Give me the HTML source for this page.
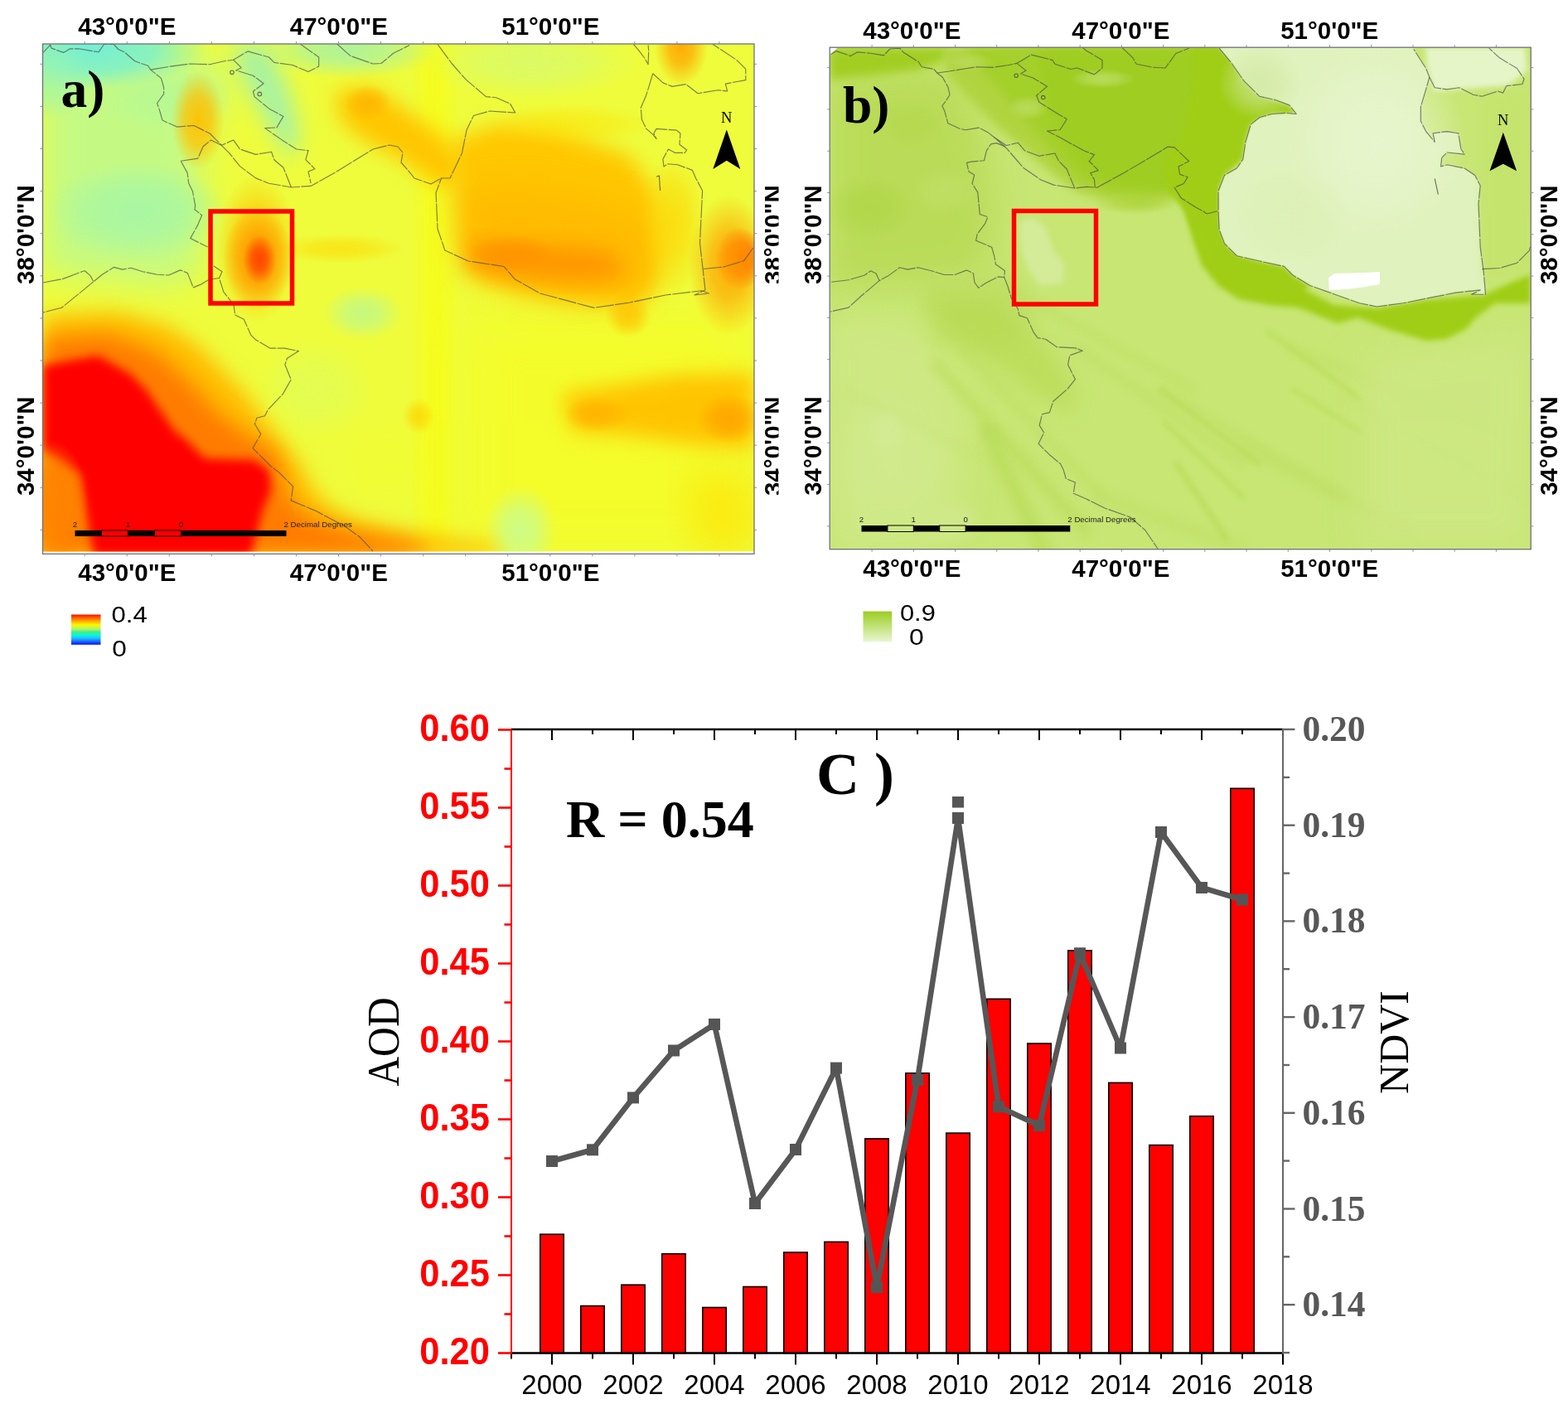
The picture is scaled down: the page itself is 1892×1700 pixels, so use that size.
<!DOCTYPE html>
<html><head><meta charset="utf-8"><title>AOD NDVI</title>
<style>html,body{margin:0;padding:0;background:#fff;} body{width:1892px;height:1700px;overflow:hidden;} svg{display:block;}</style>
</head><body>
<svg width="1892" height="1700" viewBox="0 0 1892 1700">
<rect width="1892" height="1700" fill="#fff"/>

<defs>
<clipPath id="clipA"><rect x="52" y="53" width="858" height="612.5"/></clipPath>
<clipPath id="clipRa"><rect x="900" y="0" width="39.5" height="800"/></clipPath>
<filter id="ba6" x="-30%" y="-30%" width="160%" height="160%"><feGaussianBlur stdDeviation="6"/></filter>
<filter id="ba12" x="-30%" y="-30%" width="160%" height="160%"><feGaussianBlur stdDeviation="12"/></filter>
<filter id="ba20" x="-30%" y="-30%" width="160%" height="160%"><feGaussianBlur stdDeviation="20"/></filter>
<filter id="ba30" x="-30%" y="-30%" width="160%" height="160%"><feGaussianBlur stdDeviation="30"/></filter>
</defs>
<g clip-path="url(#clipA)">
<rect x="52" y="53" width="858" height="612.5" fill="#eefc3c"/>
<polygon points="508.0,53.0 542.0,53.0 542.0,665.0 508.0,665.0" fill="#fdfd00" filter="url(#ba12)" opacity="0.55"/>
<radialGradient id="rg1"><stop offset="0" stop-color="#f4fd28" stop-opacity="0.4"/><stop offset="0.45" stop-color="#f4fd28" stop-opacity="0.300"/><stop offset="1" stop-color="#f4fd28" stop-opacity="0"/></radialGradient><ellipse cx="470" cy="560" rx="80" ry="70" fill="url(#rg1)"/>
<polygon points="560.0,380.0 910.0,380.0 910.0,665.0 560.0,665.0" fill="#fbfd14" filter="url(#ba30)" opacity="0.45"/>
<polygon points="52.0,53.0 200.0,53.0 260.0,75.0 280.0,110.0 250.0,150.0 240.0,200.0 250.0,260.0 240.0,330.0 200.0,345.0 120.0,335.0 52.0,330.0" fill="#c4fa84" filter="url(#ba20)"/>
<radialGradient id="rg2"><stop offset="0" stop-color="#a4f6a8" stop-opacity="0.85"/><stop offset="0.5" stop-color="#a4f6a8" stop-opacity="0.637"/><stop offset="1" stop-color="#a4f6a8" stop-opacity="0"/></radialGradient><ellipse cx="165" cy="255" rx="110" ry="60" fill="url(#rg2)"/>
<radialGradient id="rg3"><stop offset="0" stop-color="#74efd4" stop-opacity="1"/><stop offset="0.55" stop-color="#74efd4" stop-opacity="0.750"/><stop offset="1" stop-color="#74efd4" stop-opacity="0"/></radialGradient><ellipse cx="110" cy="58" rx="140" ry="50" fill="url(#rg3)"/>
<radialGradient id="rg4"><stop offset="0" stop-color="#98f4b4" stop-opacity="0.7"/><stop offset="0.45" stop-color="#98f4b4" stop-opacity="0.525"/><stop offset="1" stop-color="#98f4b4" stop-opacity="0"/></radialGradient><ellipse cx="60" cy="95" rx="50" ry="50" fill="url(#rg4)"/>
<radialGradient id="rg5"><stop offset="0" stop-color="#b0f89c" stop-opacity="0.6"/><stop offset="0.45" stop-color="#b0f89c" stop-opacity="0.450"/><stop offset="1" stop-color="#b0f89c" stop-opacity="0"/></radialGradient><ellipse cx="200" cy="120" rx="80" ry="40" fill="url(#rg5)"/>
<polygon points="280.0,53.0 322.0,53.0 348.0,105.0 362.0,160.0 352.0,195.0 332.0,165.0 305.0,120.0 288.0,85.0" fill="#a2f2aa" filter="url(#ba12)" opacity="0.9"/>
<radialGradient id="rg6"><stop offset="0" stop-color="#a8f2a4" stop-opacity="0.9"/><stop offset="0.45" stop-color="#a8f2a4" stop-opacity="0.675"/><stop offset="1" stop-color="#a8f2a4" stop-opacity="0"/></radialGradient><ellipse cx="420" cy="60" rx="110" ry="35" fill="url(#rg6)"/>
<radialGradient id="rg7"><stop offset="0" stop-color="#d6fa70" stop-opacity="0.8"/><stop offset="0.45" stop-color="#d6fa70" stop-opacity="0.600"/><stop offset="1" stop-color="#d6fa70" stop-opacity="0"/></radialGradient><ellipse cx="640" cy="75" rx="130" ry="45" fill="url(#rg7)"/>
<radialGradient id="rg8"><stop offset="0" stop-color="#bcf890" stop-opacity="0.8"/><stop offset="0.45" stop-color="#bcf890" stop-opacity="0.600"/><stop offset="1" stop-color="#bcf890" stop-opacity="0"/></radialGradient><ellipse cx="438" cy="378" rx="48" ry="32" fill="url(#rg8)"/>
<radialGradient id="rg9"><stop offset="0" stop-color="#ccfc8c" stop-opacity="0.95"/><stop offset="0.45" stop-color="#ccfc8c" stop-opacity="0.712"/><stop offset="1" stop-color="#ccfc8c" stop-opacity="0"/></radialGradient><ellipse cx="628" cy="640" rx="45" ry="55" fill="url(#rg9)"/>
<radialGradient id="rg10"><stop offset="0" stop-color="#dcfd60" stop-opacity="0.6"/><stop offset="0.45" stop-color="#dcfd60" stop-opacity="0.450"/><stop offset="1" stop-color="#dcfd60" stop-opacity="0"/></radialGradient><ellipse cx="380" cy="470" rx="70" ry="60" fill="url(#rg10)"/>
<radialGradient id="rg11"><stop offset="0" stop-color="#ffc000" stop-opacity="0.95"/><stop offset="0.5" stop-color="#ffc000" stop-opacity="0.712"/><stop offset="1" stop-color="#ffc000" stop-opacity="0"/></radialGradient><ellipse cx="239" cy="145" rx="32" ry="60" fill="url(#rg11)"/>
<polygon points="405.0,110.0 450.0,105.0 500.0,140.0 540.0,170.0 560.0,200.0 550.0,230.0 515.0,215.0 480.0,190.0 440.0,170.0 410.0,145.0" fill="#ffc600" filter="url(#ba12)"/>
<radialGradient id="rg12"><stop offset="0" stop-color="#ffb000" stop-opacity="0.7"/><stop offset="0.45" stop-color="#ffb000" stop-opacity="0.525"/><stop offset="1" stop-color="#ffb000" stop-opacity="0"/></radialGradient><ellipse cx="444" cy="124" rx="28" ry="22" fill="url(#rg12)"/>
<polygon points="545.0,170.0 600.0,150.0 660.0,155.0 705.0,168.0 760.0,188.0 790.0,230.0 796.0,300.0 792.0,345.0 770.0,368.0 700.0,364.0 640.0,354.0 590.0,338.0 560.0,320.0 552.0,260.0" fill="#ffc800" filter="url(#ba12)"/>
<polygon points="556.0,230.0 640.0,225.0 720.0,240.0 785.0,260.0 790.0,330.0 760.0,360.0 700.0,360.0 640.0,350.0 590.0,335.0 560.0,318.0" fill="#ffb800" filter="url(#ba20)" opacity="0.8"/>
<radialGradient id="rg13"><stop offset="0" stop-color="#ffd400" stop-opacity="0.7"/><stop offset="0.45" stop-color="#ffd400" stop-opacity="0.525"/><stop offset="1" stop-color="#ffd400" stop-opacity="0"/></radialGradient><ellipse cx="812" cy="270" rx="40" ry="85" fill="url(#rg13)"/>
<radialGradient id="rg14"><stop offset="0" stop-color="#ffe000" stop-opacity="0.5"/><stop offset="0.45" stop-color="#ffe000" stop-opacity="0.375"/><stop offset="1" stop-color="#ffe000" stop-opacity="0"/></radialGradient><ellipse cx="690" cy="150" rx="100" ry="26" fill="url(#rg14)"/>
<polygon points="568.0,290.0 640.0,294.0 720.0,300.0 750.0,312.0 750.0,336.0 700.0,340.0 620.0,334.0 568.0,324.0" fill="#ff9800" filter="url(#ba12)"/>
<radialGradient id="rg15"><stop offset="0" stop-color="#ff9000" stop-opacity="0.6"/><stop offset="0.45" stop-color="#ff9000" stop-opacity="0.450"/><stop offset="1" stop-color="#ff9000" stop-opacity="0"/></radialGradient><ellipse cx="620" cy="305" rx="50" ry="22" fill="url(#rg15)"/>
<radialGradient id="rg16"><stop offset="0" stop-color="#ff4a00" stop-opacity="1"/><stop offset="0.5" stop-color="#ff4a00" stop-opacity="0.750"/><stop offset="1" stop-color="#ff4a00" stop-opacity="0"/></radialGradient><ellipse cx="893" cy="312" rx="30" ry="38" fill="url(#rg16)"/>
<radialGradient id="rg17"><stop offset="0" stop-color="#ffa000" stop-opacity="0.85"/><stop offset="0.45" stop-color="#ffa000" stop-opacity="0.637"/><stop offset="1" stop-color="#ffa000" stop-opacity="0"/></radialGradient><ellipse cx="880" cy="320" rx="50" ry="85" fill="url(#rg17)"/>
<radialGradient id="rg18"><stop offset="0" stop-color="#ffa800" stop-opacity="0.95"/><stop offset="0.45" stop-color="#ffa800" stop-opacity="0.712"/><stop offset="1" stop-color="#ffa800" stop-opacity="0"/></radialGradient><ellipse cx="822" cy="56" rx="32" ry="48" fill="url(#rg18)"/>
<radialGradient id="rg19"><stop offset="0" stop-color="#ffc000" stop-opacity="0.8"/><stop offset="0.45" stop-color="#ffc000" stop-opacity="0.600"/><stop offset="1" stop-color="#ffc000" stop-opacity="0"/></radialGradient><ellipse cx="758" cy="380" rx="28" ry="28" fill="url(#rg19)"/>
<polygon points="678.0,475.0 760.0,462.0 820.0,452.0 910.0,450.0 910.0,542.0 850.0,538.0 760.0,525.0 690.0,520.0" fill="#ffc400" filter="url(#ba12)"/>
<radialGradient id="rg20"><stop offset="0" stop-color="#ffaa00" stop-opacity="0.6"/><stop offset="0.45" stop-color="#ffaa00" stop-opacity="0.450"/><stop offset="1" stop-color="#ffaa00" stop-opacity="0"/></radialGradient><ellipse cx="720" cy="500" rx="40" ry="22" fill="url(#rg20)"/>
<radialGradient id="rg21"><stop offset="0" stop-color="#ffa000" stop-opacity="0.8"/><stop offset="0.45" stop-color="#ffa000" stop-opacity="0.600"/><stop offset="1" stop-color="#ffa000" stop-opacity="0"/></radialGradient><ellipse cx="880" cy="505" rx="40" ry="30" fill="url(#rg21)"/>
<radialGradient id="rg22"><stop offset="0" stop-color="#ffd000" stop-opacity="0.7"/><stop offset="0.45" stop-color="#ffd000" stop-opacity="0.525"/><stop offset="1" stop-color="#ffd000" stop-opacity="0"/></radialGradient><ellipse cx="505" cy="502" rx="20" ry="22" fill="url(#rg22)"/>
<polygon points="830.0,575.0 910.0,575.0 910.0,665.0 840.0,665.0" fill="#ffe000" filter="url(#ba20)" opacity="0.6"/>
<radialGradient id="rg23"><stop offset="0" stop-color="#ffd800" stop-opacity="0.6"/><stop offset="0.45" stop-color="#ffd800" stop-opacity="0.450"/><stop offset="1" stop-color="#ffd800" stop-opacity="0"/></radialGradient><ellipse cx="410" cy="300" rx="80" ry="18" fill="url(#rg23)"/>
<radialGradient id="rg24"><stop offset="0" stop-color="#ffc000" stop-opacity="0.8"/><stop offset="0.5" stop-color="#ffc000" stop-opacity="0.600"/><stop offset="1" stop-color="#ffc000" stop-opacity="0"/></radialGradient><ellipse cx="310" cy="300" rx="50" ry="90" fill="url(#rg24)"/>
<radialGradient id="rg25"><stop offset="0" stop-color="#ff9a00" stop-opacity="0.95"/><stop offset="0.5" stop-color="#ff9a00" stop-opacity="0.712"/><stop offset="1" stop-color="#ff9a00" stop-opacity="0"/></radialGradient><ellipse cx="311" cy="312" rx="42" ry="62" fill="url(#rg25)"/>
<radialGradient id="rg26"><stop offset="0" stop-color="#ff4400" stop-opacity="1"/><stop offset="0.45" stop-color="#ff4400" stop-opacity="0.750"/><stop offset="1" stop-color="#ff4400" stop-opacity="0"/></radialGradient><ellipse cx="313" cy="313" rx="20" ry="30" fill="url(#rg26)"/>
<polygon points="52.0,380.0 140.0,376.0 200.0,392.0 240.0,418.0 272.0,450.0 300.0,480.0 322.0,510.0 342.0,535.0 362.0,560.0 378.0,590.0 398.0,612.0 432.0,628.0 480.0,640.0 540.0,650.0 600.0,658.0 600.0,670.0 52.0,670.0" fill="#ffbc00" filter="url(#ba12)"/>
<polygon points="52.0,408.0 130.0,403.0 186.0,424.0 226.0,458.0 262.0,498.0 296.0,524.0 330.0,542.0 342.0,572.0 348.0,600.0 368.0,622.0 420.0,640.0 500.0,655.0 520.0,670.0 52.0,670.0" fill="#ff7c00" filter="url(#ba12)"/>
<polygon points="52.0,441.0 118.0,429.0 157.0,451.0 176.0,470.0 210.0,519.0 225.0,531.0 247.0,553.0 307.0,555.0 325.0,568.0 327.0,592.0 317.0,616.0 303.0,670.0 113.0,670.0 96.0,572.0 52.0,543.0" fill="#ff0000" filter="url(#ba6)"/>
<radialGradient id="rg27"><stop offset="0" stop-color="#ff8400" stop-opacity="1"/><stop offset="0.5" stop-color="#ff8400" stop-opacity="0.750"/><stop offset="1" stop-color="#ff8400" stop-opacity="0"/></radialGradient><ellipse cx="62" cy="610" rx="45" ry="80" fill="url(#rg27)"/>
</g>
<polyline points="52.0,63.4 60.8,54.2 62.1,58.1 76.6,63.4 84.6,58.8 95.1,58.8 118.9,62.8 125.5,53.5 137.4,53.5 142.7,59.5 150.0,62.7 162.7,73.8 178.5,79.3 181.7,84.1 194.4,94.4 197.6,105.5 197.6,113.4 189.6,124.5 192.8,134.0 196.0,145.1 213.4,153.1 234.0,151.5 253.1,161.0 267.3,175.3 276.8,184.8 289.5,200.6 308.6,214.9 324.4,221.2 351.4,226.0 375.1,224.4 403.7,208.6 450.0,180.0 470.0,175.0 480.0,177.0 486.0,184.0 484.0,196.0 492.0,205.0 500.0,215.0 520.0,222.0 532.5,215.0" fill="none" stroke="#4a4a4a" stroke-width="1.15" stroke-linejoin="round" opacity="0.7" stroke-dasharray="22 1.4"/>
<polyline points="181.7,84.1 205.5,80.1 229.3,77.0 253.1,77.7 270.5,73.8 281.6,72.2 299.0,61.9 324.4,69.0 330.8,75.4 353.0,78.5 372.0,86.5 384.7,80.1 384.7,69.0 362.5,53.2" fill="none" stroke="#4a4a4a" stroke-width="1.15" stroke-linejoin="round" opacity="0.7" stroke-dasharray="22 1.4"/>
<polyline points="281.6,72.2 291.1,81.7 284.8,84.9 305.4,91.2 318.1,100.7 305.4,110.2 307.0,116.6 324.4,130.9 341.9,140.4 333.9,153.9 319.7,154.6 340.3,168.9 357.7,180.0 372.0,181.6 368.8,192.7 379.9,203.8 372.0,207.0 375.1,221.2" fill="none" stroke="#4a4a4a" stroke-width="1.15" stroke-linejoin="round" opacity="0.7" stroke-dasharray="22 1.4"/>
<polyline points="218.2,194.3 238.8,191.1 245.1,176.8 254.6,168.9 267.3,175.3 281.6,168.9 289.5,180.0 308.6,186.4 327.6,183.2 330.8,192.7 341.9,202.2 351.4,226.0" fill="none" stroke="#4a4a4a" stroke-width="1.15" stroke-linejoin="round" opacity="0.7" stroke-dasharray="22 1.4"/>
<polyline points="218.2,194.3 226.1,208.6 227.7,221.2 232.4,230.8 235.6,248.2 234.9,252.7 243.6,259.7 238.4,271.9 229.7,287.6 250.6,298.0" fill="none" stroke="#4a4a4a" stroke-width="1.15" stroke-linejoin="round" opacity="0.7" stroke-dasharray="22 1.4"/>
<polyline points="257.6,320.7 268.0,327.7 264.5,335.5 269.8,352.1 282.0,367.8 283.7,380.0 294.2,385.2 302.9,404.4 308.2,409.7 325.6,420.1 343.0,420.1 360.5,423.6 346.5,432.3 343.9,440.0 351.2,458.0 341.5,475.1 323.2,494.5 319.6,501.8 309.9,504.2 307.4,511.5 314.7,523.7 305.0,540.7 326.9,562.6 336.6,569.9 353.6,586.9 351.2,603.9 380.4,616.1 416.9,635.5 433.9,647.7 450.0,665.0" fill="none" stroke="#4a4a4a" stroke-width="1.15" stroke-linejoin="round" opacity="0.7" stroke-dasharray="22 1.4"/>
<polyline points="52.0,341.0 76.2,336.4 98.8,327.7 102.3,326.8 109.3,332.9 112.8,339.9 123.3,331.2 137.2,322.4 147.7,325.1 158.1,323.3 172.1,327.7 189.5,331.2 203.5,332.0 217.5,325.9 226.2,329.4 229.7,338.1 233.2,346.9 241.9,343.4 252.3,337.3 264.5,335.5" fill="none" stroke="#4a4a4a" stroke-width="1.15" stroke-linejoin="round" opacity="0.7" stroke-dasharray="22 1.4"/>
<polyline points="112.8,339.9 93.6,355.6 74.4,371.3 52.0,377.0" fill="none" stroke="#4a4a4a" stroke-width="1.15" stroke-linejoin="round" opacity="0.7" stroke-dasharray="22 1.4"/>
<polyline points="528.0,53.4 545.1,76.5 562.1,95.9 586.4,116.6 598.6,117.8 615.6,125.1 621.7,136.0 591.0,134.0 571.5,139.5 563.0,157.0 557.4,185.0 543.0,215.0 532.5,215.0 526.0,232.7 527.0,254.0 528.0,276.0 536.8,302.0 565.0,315.0 608.0,321.5 621.0,336.7 651.7,354.0 716.7,371.4 760.0,365.0 803.0,356.0 846.7,350.8 855.4,354.0 838.0,356.0 851.0,349.7 844.5,293.3 847.6,230.0 839.8,215.4 835.4,205.4 817.6,198.7 805.4,197.7 801.0,201.0 799.9,192.1 806.5,179.9 814.3,184.3 826.5,184.3 828.7,181.0 819.9,174.3 821.0,161.0 816.5,157.1 792.1,155.4 788.8,161.0 792.1,167.6 787.7,162.1 779.9,155.4 774.4,144.3 773.3,129.9 779.9,114.4 784.4,99.9 787.7,88.8" fill="none" stroke="#4a4a4a" stroke-width="1.15" stroke-linejoin="round" opacity="0.7" stroke-dasharray="22 1.4"/>
<polyline points="764.4,53.3 771.0,61.1 777.7,70.0 782.1,77.7 782.7,61.1 782.1,54.4" fill="none" stroke="#4a4a4a" stroke-width="1.15" stroke-linejoin="round" opacity="0.7" stroke-dasharray="22 1.4"/>
<polyline points="787.7,88.8 799.9,99.9 811.0,104.4 827.6,101.6 842.1,112.7 866.5,108.8 877.6,109.9 875.4,101.1 899.8,96.6 899.8,83.3 888.7,72.2 859.8,53.3" fill="none" stroke="#4a4a4a" stroke-width="1.15" stroke-linejoin="round" opacity="0.7" stroke-dasharray="22 1.4"/>
<polyline points="849.0,324.5 873.3,322.0 897.6,314.7 909.8,297.7" fill="none" stroke="#4a4a4a" stroke-width="1.15" stroke-linejoin="round" opacity="0.7" stroke-dasharray="22 1.4"/>
<polyline points="406.9,53.2 422.7,67.4 450.0,77.0 460.0,76.5 474.6,64.3 494.0,54.6" fill="none" stroke="#4a4a4a" stroke-width="1.15" stroke-linejoin="round" opacity="0.7" stroke-dasharray="22 1.4"/>
<circle cx="280" cy="87.3" r="2.3" fill="none" stroke="#4a4a4a" stroke-width="1.1" opacity="0.8"/>
<circle cx="313.3" cy="113.4" r="2.3" fill="none" stroke="#4a4a4a" stroke-width="1.1" opacity="0.8"/>
<polyline points="792.1,213.2 795.4,212.0 796.6,230.0" fill="none" stroke="#4a4a4a" stroke-width="1.1" stroke-linejoin="round" opacity="0.8"/>
<rect x="254" y="255" width="98.5" height="111" fill="none" stroke="#ff0000" stroke-width="5.5"/>
<text x="876.8" y="147.6" font-family="'Liberation Serif', 'Times New Roman', serif" font-size="18.5" text-anchor="middle" fill="#000">N</text><polygon points="876.8,156.5 893.3,204.1 876.8,193.8 860.3,204.1" fill="#000"/>
<rect x="90.5" y="640" width="32" height="7" fill="#000"/>
<rect x="122.5" y="640" width="32" height="7" fill="none" stroke="#000" stroke-width="1"/>
<rect x="154.5" y="640" width="32" height="7" fill="#000"/>
<rect x="186.5" y="640" width="32" height="7" fill="none" stroke="#000" stroke-width="1"/>
<rect x="218.5" y="640" width="127.0" height="7" fill="#000"/>
<text x="90.5" y="636" font-family="'Liberation Sans', Arial, sans-serif" font-size="9.7" text-anchor="middle" fill="#222">2</text>
<text x="154.5" y="636" font-family="'Liberation Sans', Arial, sans-serif" font-size="9.7" text-anchor="middle" fill="#222">1</text>
<text x="218.5" y="636" font-family="'Liberation Sans', Arial, sans-serif" font-size="9.7" text-anchor="middle" fill="#222">0</text>
<text x="342.5" y="636" font-family="'Liberation Sans', Arial, sans-serif" font-size="9.7" fill="#222">2 Decimal Degrees</text>
<rect x="51.5" y="53" width="858.5" height="615.3" fill="none" stroke="#6f6f7a" stroke-width="1.3"/>
<line x1="102.2" y1="50" x2="102.2" y2="53" stroke="#8888bb" stroke-width="1"/>
<line x1="102.2" y1="668.3" x2="102.2" y2="671.3" stroke="#8888bb" stroke-width="1"/>
<line x1="153.25" y1="50" x2="153.25" y2="53" stroke="#8888bb" stroke-width="1"/>
<line x1="153.25" y1="668.3" x2="153.25" y2="671.3" stroke="#8888bb" stroke-width="1"/>
<line x1="204.3" y1="50" x2="204.3" y2="53" stroke="#8888bb" stroke-width="1"/>
<line x1="204.3" y1="668.3" x2="204.3" y2="671.3" stroke="#8888bb" stroke-width="1"/>
<line x1="255.34999999999997" y1="50" x2="255.34999999999997" y2="53" stroke="#8888bb" stroke-width="1"/>
<line x1="255.34999999999997" y1="668.3" x2="255.34999999999997" y2="671.3" stroke="#8888bb" stroke-width="1"/>
<line x1="306.4" y1="50" x2="306.4" y2="53" stroke="#8888bb" stroke-width="1"/>
<line x1="306.4" y1="668.3" x2="306.4" y2="671.3" stroke="#8888bb" stroke-width="1"/>
<line x1="357.45" y1="50" x2="357.45" y2="53" stroke="#8888bb" stroke-width="1"/>
<line x1="357.45" y1="668.3" x2="357.45" y2="671.3" stroke="#8888bb" stroke-width="1"/>
<line x1="408.49999999999994" y1="50" x2="408.49999999999994" y2="53" stroke="#8888bb" stroke-width="1"/>
<line x1="408.49999999999994" y1="668.3" x2="408.49999999999994" y2="671.3" stroke="#8888bb" stroke-width="1"/>
<line x1="459.54999999999995" y1="50" x2="459.54999999999995" y2="53" stroke="#8888bb" stroke-width="1"/>
<line x1="459.54999999999995" y1="668.3" x2="459.54999999999995" y2="671.3" stroke="#8888bb" stroke-width="1"/>
<line x1="510.59999999999997" y1="50" x2="510.59999999999997" y2="53" stroke="#8888bb" stroke-width="1"/>
<line x1="510.59999999999997" y1="668.3" x2="510.59999999999997" y2="671.3" stroke="#8888bb" stroke-width="1"/>
<line x1="561.65" y1="50" x2="561.65" y2="53" stroke="#8888bb" stroke-width="1"/>
<line x1="561.65" y1="668.3" x2="561.65" y2="671.3" stroke="#8888bb" stroke-width="1"/>
<line x1="612.7" y1="50" x2="612.7" y2="53" stroke="#8888bb" stroke-width="1"/>
<line x1="612.7" y1="668.3" x2="612.7" y2="671.3" stroke="#8888bb" stroke-width="1"/>
<line x1="663.75" y1="50" x2="663.75" y2="53" stroke="#8888bb" stroke-width="1"/>
<line x1="663.75" y1="668.3" x2="663.75" y2="671.3" stroke="#8888bb" stroke-width="1"/>
<line x1="714.8" y1="50" x2="714.8" y2="53" stroke="#8888bb" stroke-width="1"/>
<line x1="714.8" y1="668.3" x2="714.8" y2="671.3" stroke="#8888bb" stroke-width="1"/>
<line x1="765.85" y1="50" x2="765.85" y2="53" stroke="#8888bb" stroke-width="1"/>
<line x1="765.85" y1="668.3" x2="765.85" y2="671.3" stroke="#8888bb" stroke-width="1"/>
<line x1="816.9" y1="50" x2="816.9" y2="53" stroke="#8888bb" stroke-width="1"/>
<line x1="816.9" y1="668.3" x2="816.9" y2="671.3" stroke="#8888bb" stroke-width="1"/>
<line x1="867.95" y1="50" x2="867.95" y2="53" stroke="#8888bb" stroke-width="1"/>
<line x1="867.95" y1="668.3" x2="867.95" y2="671.3" stroke="#8888bb" stroke-width="1"/>
<line x1="48.5" y1="77.3" x2="51.5" y2="77.3" stroke="#8888bb" stroke-width="1"/>
<line x1="910" y1="77.3" x2="913" y2="77.3" stroke="#8888bb" stroke-width="1"/>
<line x1="48.5" y1="128.4" x2="51.5" y2="128.4" stroke="#8888bb" stroke-width="1"/>
<line x1="910" y1="128.4" x2="913" y2="128.4" stroke="#8888bb" stroke-width="1"/>
<line x1="48.5" y1="179.5" x2="51.5" y2="179.5" stroke="#8888bb" stroke-width="1"/>
<line x1="910" y1="179.5" x2="913" y2="179.5" stroke="#8888bb" stroke-width="1"/>
<line x1="48.5" y1="230.60000000000002" x2="51.5" y2="230.60000000000002" stroke="#8888bb" stroke-width="1"/>
<line x1="910" y1="230.60000000000002" x2="913" y2="230.60000000000002" stroke="#8888bb" stroke-width="1"/>
<line x1="48.5" y1="281.7" x2="51.5" y2="281.7" stroke="#8888bb" stroke-width="1"/>
<line x1="910" y1="281.7" x2="913" y2="281.7" stroke="#8888bb" stroke-width="1"/>
<line x1="48.5" y1="332.8" x2="51.5" y2="332.8" stroke="#8888bb" stroke-width="1"/>
<line x1="910" y1="332.8" x2="913" y2="332.8" stroke="#8888bb" stroke-width="1"/>
<line x1="48.5" y1="383.90000000000003" x2="51.5" y2="383.90000000000003" stroke="#8888bb" stroke-width="1"/>
<line x1="910" y1="383.90000000000003" x2="913" y2="383.90000000000003" stroke="#8888bb" stroke-width="1"/>
<line x1="48.5" y1="435.0" x2="51.5" y2="435.0" stroke="#8888bb" stroke-width="1"/>
<line x1="910" y1="435.0" x2="913" y2="435.0" stroke="#8888bb" stroke-width="1"/>
<line x1="48.5" y1="486.1" x2="51.5" y2="486.1" stroke="#8888bb" stroke-width="1"/>
<line x1="910" y1="486.1" x2="913" y2="486.1" stroke="#8888bb" stroke-width="1"/>
<line x1="48.5" y1="537.2" x2="51.5" y2="537.2" stroke="#8888bb" stroke-width="1"/>
<line x1="910" y1="537.2" x2="913" y2="537.2" stroke="#8888bb" stroke-width="1"/>
<line x1="48.5" y1="588.3" x2="51.5" y2="588.3" stroke="#8888bb" stroke-width="1"/>
<line x1="910" y1="588.3" x2="913" y2="588.3" stroke="#8888bb" stroke-width="1"/>
<line x1="48.5" y1="639.4" x2="51.5" y2="639.4" stroke="#8888bb" stroke-width="1"/>
<line x1="910" y1="639.4" x2="913" y2="639.4" stroke="#8888bb" stroke-width="1"/>
<text x="153.3" y="42.3" font-family="'Liberation Sans', Arial, sans-serif" font-weight="bold" font-size="29.5" text-anchor="middle" fill="#000">43°0'0&quot;E</text>
<text x="153.3" y="701.2" font-family="'Liberation Sans', Arial, sans-serif" font-weight="bold" font-size="29.5" text-anchor="middle" fill="#000">43°0'0&quot;E</text>
<text x="408.8" y="42.3" font-family="'Liberation Sans', Arial, sans-serif" font-weight="bold" font-size="29.5" text-anchor="middle" fill="#000">47°0'0&quot;E</text>
<text x="408.8" y="701.2" font-family="'Liberation Sans', Arial, sans-serif" font-weight="bold" font-size="29.5" text-anchor="middle" fill="#000">47°0'0&quot;E</text>
<text x="664.3" y="42.3" font-family="'Liberation Sans', Arial, sans-serif" font-weight="bold" font-size="29.5" text-anchor="middle" fill="#000">51°0'0&quot;E</text>
<text x="664.3" y="701.2" font-family="'Liberation Sans', Arial, sans-serif" font-weight="bold" font-size="29.5" text-anchor="middle" fill="#000">51°0'0&quot;E</text>
<text transform="translate(40.6,283.1) rotate(-90)" font-family="'Liberation Sans', Arial, sans-serif" font-weight="bold" font-size="29.5" text-anchor="middle" fill="#000">38°0'0&quot;N</text>
<g clip-path="url(#clipRa)"><text transform="translate(942.5,283.1) rotate(-90)" font-family="'Liberation Sans', Arial, sans-serif" font-weight="bold" font-size="29.5" text-anchor="middle" fill="#000">38°0'0&quot;N</text></g>
<text transform="translate(40.6,538.2) rotate(-90)" font-family="'Liberation Sans', Arial, sans-serif" font-weight="bold" font-size="29.5" text-anchor="middle" fill="#000">34°0'0&quot;N</text>
<g clip-path="url(#clipRa)"><text transform="translate(942.5,538.2) rotate(-90)" font-family="'Liberation Sans', Arial, sans-serif" font-weight="bold" font-size="29.5" text-anchor="middle" fill="#000">34°0'0&quot;N</text></g>
<defs><linearGradient id="legA" x1="0" y1="0" x2="0" y2="1"><stop offset="0" stop-color="#f41000"/><stop offset="0.1" stop-color="#ff5a00"/><stop offset="0.22" stop-color="#ffaa00"/><stop offset="0.34" stop-color="#fcf800"/><stop offset="0.44" stop-color="#c8f840"/><stop offset="0.5" stop-color="#a0f088"/><stop offset="0.57" stop-color="#50ee70"/><stop offset="0.67" stop-color="#10f4d8"/><stop offset="0.72" stop-color="#00eeee"/><stop offset="0.8" stop-color="#28b0ff"/><stop offset="0.9" stop-color="#2060ff"/><stop offset="1" stop-color="#0010f0"/></linearGradient></defs>
<rect x="86" y="741.5" width="35.5" height="36.3" fill="url(#legA)"/>
<text transform="translate(134.6,751.3) scale(1.12,1)" font-family="'Liberation Sans', Arial, sans-serif" font-size="27.7" fill="#000">0.4</text>
<text transform="translate(135.3,791.5) scale(1.14,1)" font-family="'Liberation Sans', Arial, sans-serif" font-size="27.7" fill="#000">0</text>
<text x="73.5" y="128.5" font-family="'Liberation Serif', 'Times New Roman', serif" font-weight="bold" font-size="63.5" fill="#000">a)</text>
<defs>
<clipPath id="clipB"><rect x="1001.5" y="57.2" width="845.5" height="605.3"/></clipPath>
<filter id="bb1" x="-30%" y="-30%" width="160%" height="160%"><feGaussianBlur stdDeviation="1.2"/></filter>
<filter id="bb3" x="-30%" y="-30%" width="160%" height="160%"><feGaussianBlur stdDeviation="3"/></filter>
<filter id="bb6" x="-30%" y="-30%" width="160%" height="160%"><feGaussianBlur stdDeviation="6"/></filter>
<filter id="bb12" x="-30%" y="-30%" width="160%" height="160%"><feGaussianBlur stdDeviation="12"/></filter>
<filter id="bb20" x="-30%" y="-30%" width="160%" height="160%"><feGaussianBlur stdDeviation="20"/></filter>
</defs>
<g clip-path="url(#clipB)">
<rect x="1001.5" y="57.2" width="845.5" height="605.3" fill="#c7e674"/>
<polygon points="1001.0,380.0 1110.0,390.0 1150.0,450.0 1170.0,520.0 1160.0,600.0 1140.0,665.0 1001.0,665.0" fill="#cfe986" filter="url(#bb20)" opacity="0.9"/>
<polygon points="1001.0,90.0 1150.0,85.0 1185.0,160.0 1200.0,260.0 1190.0,330.0 1110.0,340.0 1001.0,350.0" fill="#b8da54" filter="url(#bb20)" opacity="0.9"/>
<radialGradient id="rg28"><stop offset="0" stop-color="#b0d646" stop-opacity="0.8"/><stop offset="0.45" stop-color="#b0d646" stop-opacity="0.600"/><stop offset="1" stop-color="#b0d646" stop-opacity="0"/></radialGradient><ellipse cx="1050" cy="250" rx="55" ry="40" fill="url(#rg28)"/>
<radialGradient id="rg29"><stop offset="0" stop-color="#b2d74a" stop-opacity="0.6"/><stop offset="0.45" stop-color="#b2d74a" stop-opacity="0.450"/><stop offset="1" stop-color="#b2d74a" stop-opacity="0"/></radialGradient><ellipse cx="1100" cy="150" rx="40" ry="30" fill="url(#rg29)"/>
<radialGradient id="rg30"><stop offset="0" stop-color="#c4e270" stop-opacity="0.5"/><stop offset="0.45" stop-color="#c4e270" stop-opacity="0.375"/><stop offset="1" stop-color="#c4e270" stop-opacity="0"/></radialGradient><ellipse cx="1140" cy="230" rx="40" ry="30" fill="url(#rg30)"/>
<polygon points="1001.0,57.0 1145.0,57.0 1142.0,72.0 1110.0,84.0 1060.0,90.0 1001.0,96.0" fill="#a2ce24" filter="url(#bb6)"/>
<polygon points="1140.0,57.0 1478.0,57.0 1490.0,80.0 1480.0,120.0 1462.0,170.0 1455.0,200.0 1440.0,215.0 1420.0,240.0 1380.0,246.0 1330.0,240.0 1300.0,232.0 1270.0,210.0 1235.0,180.0 1200.0,150.0 1165.0,115.0 1140.0,85.0" fill="#b0d440" filter="url(#bb6)"/>
<polygon points="1165.0,57.0 1478.0,57.0 1490.0,80.0 1480.0,120.0 1462.0,170.0 1455.0,200.0 1440.0,215.0 1420.0,232.0 1380.0,236.0 1330.0,230.0 1300.0,215.0 1275.0,190.0 1250.0,160.0 1215.0,120.0 1185.0,85.0" fill="#a4d02a" filter="url(#bb6)"/>
<polygon points="1250.0,60.0 1470.0,60.0 1478.0,110.0 1460.0,170.0 1440.0,215.0 1400.0,228.0 1340.0,222.0 1305.0,200.0 1280.0,165.0 1262.0,120.0" fill="#9fcd20" filter="url(#bb6)"/>
<radialGradient id="rg31"><stop offset="0" stop-color="#bde066" stop-opacity="0.8"/><stop offset="0.45" stop-color="#bde066" stop-opacity="0.600"/><stop offset="1" stop-color="#bde066" stop-opacity="0"/></radialGradient><ellipse cx="1330" cy="95" rx="40" ry="12" fill="url(#rg31)"/>
<radialGradient id="rg32"><stop offset="0" stop-color="#c0e06c" stop-opacity="0.7"/><stop offset="0.45" stop-color="#c0e06c" stop-opacity="0.525"/><stop offset="1" stop-color="#c0e06c" stop-opacity="0"/></radialGradient><ellipse cx="1240" cy="130" rx="25" ry="15" fill="url(#rg32)"/>
<radialGradient id="rg33"><stop offset="0" stop-color="#bcdd62" stop-opacity="0.6"/><stop offset="0.45" stop-color="#bcdd62" stop-opacity="0.450"/><stop offset="1" stop-color="#bcdd62" stop-opacity="0"/></radialGradient><ellipse cx="1170" cy="75" rx="30" ry="12" fill="url(#rg33)"/>
<radialGradient id="rg34"><stop offset="0" stop-color="#aed43c" stop-opacity="0.8"/><stop offset="0.45" stop-color="#aed43c" stop-opacity="0.600"/><stop offset="1" stop-color="#aed43c" stop-opacity="0"/></radialGradient><ellipse cx="1370" cy="245" rx="50" ry="14" fill="url(#rg34)"/>
<polygon points="1111.0,340.0 1222.0,330.0 1250.0,380.0 1222.0,420.0 1130.0,418.0" fill="#bddd60" filter="url(#bb12)" opacity="0.8"/>
<line x1="1130" y1="440" x2="1310" y2="640" stroke="#b2d74a" stroke-width="14" opacity="0.39" filter="url(#bb6)" stroke-linecap="round"/>
<line x1="1165" y1="425" x2="1330" y2="600" stroke="#b6d952" stroke-width="10" opacity="0.35" filter="url(#bb6)" stroke-linecap="round"/>
<line x1="1190" y1="520" x2="1260" y2="665" stroke="#b0d646" stroke-width="18" opacity="0.42" filter="url(#bb6)" stroke-linecap="round"/>
<line x1="1300" y1="420" x2="1500" y2="560" stroke="#bad95a" stroke-width="12" opacity="0.35" filter="url(#bb6)" stroke-linecap="round"/>
<line x1="1400" y1="470" x2="1620" y2="600" stroke="#bad95a" stroke-width="12" opacity="0.32" filter="url(#bb6)" stroke-linecap="round"/>
<line x1="1500" y1="540" x2="1700" y2="640" stroke="#bbdc5c" stroke-width="10" opacity="0.32" filter="url(#bb6)" stroke-linecap="round"/>
<line x1="1020" y1="470" x2="1200" y2="560" stroke="#bddd60" stroke-width="8" opacity="0.28" filter="url(#bb6)" stroke-linecap="round"/>
<line x1="1240" y1="360" x2="1440" y2="470" stroke="#b8da56" stroke-width="10" opacity="0.32" filter="url(#bb6)" stroke-linecap="round"/>
<line x1="1560" y1="420" x2="1800" y2="520" stroke="#bbdc5c" stroke-width="14" opacity="0.28" filter="url(#bb6)" stroke-linecap="round"/>
<line x1="1620" y1="480" x2="1840" y2="600" stroke="#bcdc5e" stroke-width="10" opacity="0.28" filter="url(#bb6)" stroke-linecap="round"/>
<line x1="1330" y1="600" x2="1500" y2="662" stroke="#b8da58" stroke-width="14" opacity="0.28" filter="url(#bb6)" stroke-linecap="round"/>
<polygon points="1640.0,430.0 1847.0,400.0 1847.0,662.0 1640.0,662.0" fill="#d0e98a" filter="url(#bb20)" opacity="0.6"/>
<line x1="1400" y1="470" x2="1520" y2="560" stroke="#aed440" stroke-width="5" opacity="0.45" filter="url(#bb3)" stroke-linecap="round"/>
<line x1="1405" y1="510" x2="1500" y2="600" stroke="#aed440" stroke-width="5" opacity="0.45" filter="url(#bb3)" stroke-linecap="round"/>
<line x1="1420" y1="560" x2="1480" y2="650" stroke="#aed440" stroke-width="6" opacity="0.45" filter="url(#bb3)" stroke-linecap="round"/>
<line x1="1530" y1="400" x2="1640" y2="480" stroke="#aed440" stroke-width="5" opacity="0.45" filter="url(#bb3)" stroke-linecap="round"/>
<line x1="1560" y1="470" x2="1640" y2="520" stroke="#aed440" stroke-width="4" opacity="0.45" filter="url(#bb3)" stroke-linecap="round"/>
<polygon points="1110.0,362.0 1190.0,360.0 1260.0,410.0 1300.0,470.0 1290.0,500.0 1240.0,470.0 1170.0,420.0" fill="#b6d94e" filter="url(#bb12)" opacity="0.6"/>
<radialGradient id="rg35"><stop offset="0" stop-color="#d2eb94" stop-opacity="0.55"/><stop offset="0.45" stop-color="#d2eb94" stop-opacity="0.413"/><stop offset="1" stop-color="#d2eb94" stop-opacity="0"/></radialGradient><ellipse cx="1075" cy="560" rx="80" ry="95" fill="url(#rg35)"/>
<polygon points="1229.0,268.0 1245.0,262.0 1262.0,275.0 1270.0,300.0 1285.0,320.0 1282.0,342.0 1255.0,345.0 1240.0,325.0 1232.0,300.0" fill="#d4eb98" filter="url(#bb3)"/>
<radialGradient id="rg36"><stop offset="0" stop-color="#d2ea90" stop-opacity="0.7"/><stop offset="0.45" stop-color="#d2ea90" stop-opacity="0.525"/><stop offset="1" stop-color="#d2ea90" stop-opacity="0"/></radialGradient><ellipse cx="1150" cy="630" rx="40" ry="30" fill="url(#rg36)"/>
<radialGradient id="rg37"><stop offset="0" stop-color="#d6ec9a" stop-opacity="0.6"/><stop offset="0.45" stop-color="#d6ec9a" stop-opacity="0.450"/><stop offset="1" stop-color="#d6ec9a" stop-opacity="0"/></radialGradient><ellipse cx="1070" cy="520" rx="25" ry="30" fill="url(#rg37)"/>
<polygon points="1415.0,175.0 1450.0,190.0 1470.0,230.0 1472.0,266.0 1485.0,302.0 1517.0,320.0 1548.0,328.0 1575.0,350.0 1610.0,368.0 1660.0,372.0 1720.0,362.0 1790.0,356.0 1847.0,330.0 1847.0,366.0 1804.0,366.0 1781.0,383.0 1769.0,397.0 1745.0,409.0 1721.0,411.0 1674.0,397.0 1638.0,383.0 1614.0,390.0 1566.0,371.0 1531.0,368.0 1495.0,361.0 1470.0,345.0 1450.0,320.0 1440.0,290.0 1430.0,255.0 1410.0,230.0 1405.0,200.0" fill="#a0ce16" filter="url(#bb3)"/>
<polygon points="1440.0,57.0 1471.0,57.0 1486.0,76.0 1501.0,97.0 1520.0,116.0 1539.0,121.0 1556.0,127.0 1564.0,138.0 1535.0,138.0 1510.0,150.0 1503.0,171.0 1500.0,192.0 1478.0,211.0 1470.0,231.0 1470.0,256.0 1471.0,277.0 1477.0,294.0 1492.0,309.0 1520.0,315.0 1549.0,321.0 1560.0,332.0 1581.0,345.0 1560.0,360.0 1500.0,345.0 1460.0,320.0 1440.0,280.0 1425.0,240.0 1410.0,205.0 1430.0,150.0 1440.0,100.0" fill="#a0ce18" filter="url(#bb3)"/>
<polygon points="1468.0,55.0 1471.1,58.2 1485.9,76.1 1500.7,97.3 1519.8,116.3 1538.8,120.5 1555.7,126.9 1564.2,137.5 1551.5,136.4 1534.6,137.5 1519.8,141.7 1509.2,150.1 1502.9,171.3 1499.7,192.4 1492.3,203.0 1477.5,211.4 1470.1,230.5 1470.1,255.8 1471.1,277.0 1477.5,293.9 1492.3,308.7 1519.8,315.0 1549.4,321.4 1559.9,332.0 1581.1,344.7 1610.7,355.2 1640.3,365.8 1661.4,370.0 1693.1,365.8 1724.8,359.4 1756.6,353.1 1786.2,349.9 1775.6,355.2 1792.5,355.2 1790.4,329.8 1786.2,298.1 1784.0,245.3 1786.2,224.1 1779.8,211.4 1767.1,203.0 1746.0,198.8 1738.6,200.9 1739.7,190.3 1746.0,184.0 1767.1,186.1 1762.9,179.7 1759.7,160.7 1746.0,158.6 1729.1,160.7 1731.2,171.3 1720.6,158.6 1714.3,145.9 1714.3,129.0 1720.6,107.9 1724.8,93.1 1720.6,82.5 1705.8,59.2 1707.0,55.0" fill="#e0f2bd" filter="url(#bb1)"/>
<radialGradient id="rg38"><stop offset="0" stop-color="#e9f6d0" stop-opacity="0.85"/><stop offset="0.45" stop-color="#e9f6d0" stop-opacity="0.637"/><stop offset="1" stop-color="#e9f6d0" stop-opacity="0"/></radialGradient><ellipse cx="1660" cy="170" rx="110" ry="120" fill="url(#rg38)"/>
<radialGradient id="rg39"><stop offset="0" stop-color="#d0e8a0" stop-opacity="0.7"/><stop offset="0.45" stop-color="#d0e8a0" stop-opacity="0.525"/><stop offset="1" stop-color="#d0e8a0" stop-opacity="0"/></radialGradient><ellipse cx="1520" cy="100" rx="50" ry="45" fill="url(#rg39)"/>
<radialGradient id="rg40"><stop offset="0" stop-color="#dcefb4" stop-opacity="0.6"/><stop offset="0.45" stop-color="#dcefb4" stop-opacity="0.450"/><stop offset="1" stop-color="#dcefb4" stop-opacity="0"/></radialGradient><ellipse cx="1560" cy="260" rx="70" ry="60" fill="url(#rg40)"/>
<polygon points="1720.0,57.0 1840.0,57.0 1843.0,85.0 1820.0,103.0 1730.0,110.0 1722.0,80.0" fill="#e6f5c8" filter="url(#bb3)"/>
<polygon points="1791.0,120.0 1847.0,110.0 1847.0,330.0 1791.0,334.0" fill="#c4e46c" filter="url(#bb6)" opacity="0.8"/>
<polygon points="1001.5,57.2 1011,57.2 1001.5,66" fill="#fff"/>
<polygon points="1603.0,335.0 1610.0,330.0 1645.0,329.0 1665.0,328.0 1665.0,343.0 1648.0,346.0 1625.0,349.0 1604.0,350.0" fill="#ffffff"/>
</g>
<polyline points="1002.6,65.6 1009.2,61.6 1026.4,67.6 1034.4,62.9 1050.2,64.2 1066.1,66.9 1074.0,59.0 1085.9,58.3 1089.9,62.9 1108.4,74.8 1112.3,80.8 1126.8,83.4 1130.8,88.0 1137.4,93.3 1144.0,105.2 1146.0,114.5 1140.0,123.7 1136.8,127.7 1140.0,134.3 1142.7,144.9 1144.0,148.8 1158.6,155.4 1165.2,156.7 1181.0,154.1 1191.6,159.4 1200.0,166.0 1214.3,178.7 1234.9,202.5 1255.5,216.7 1271.3,223.1 1296.7,227.0 1311.0,225.4 1323.7,226.2 1358.6,207.2 1409.3,177.1 1417.2,177.9 1434.7,194.5 1422.0,200.9 1423.6,210.4 1433.1,213.6 1428.3,221.5 1417.2,226.2 1425.2,238.9 1442.6,250.0 1452.1,255.0 1456.3,258.0 1469.0,254.8" fill="none" stroke="#4a4a4a" stroke-width="1.15" stroke-linejoin="round" opacity="0.7" stroke-dasharray="22 1.4"/>
<polyline points="1130.8,88.0 1145.3,86.0 1165.2,82.7 1178.4,80.8 1198.2,81.4 1204.0,80.4 1215.9,78.8 1227.0,76.4 1244.4,66.1 1269.8,72.4 1272.9,77.2 1292.0,83.5 1299.9,82.0 1320.5,89.9 1330.0,82.0 1330.0,72.4 1311.0,61.3 1306.2,57.4" fill="none" stroke="#4a4a4a" stroke-width="1.15" stroke-linejoin="round" opacity="0.7" stroke-dasharray="22 1.4"/>
<polyline points="1227.0,76.4 1238.0,85.1 1231.7,89.1 1246.0,93.8 1263.4,104.2 1250.7,115.3 1253.9,123.2 1271.3,134.3 1287.2,143.8 1279.3,156.5 1263.4,158.1 1279.3,166.0 1307.8,181.8 1320.5,186.6 1314.2,194.5 1325.3,205.6 1315.7,208.8 1320.5,216.7 1321.3,226.2" fill="none" stroke="#4a4a4a" stroke-width="1.15" stroke-linejoin="round" opacity="0.7" stroke-dasharray="22 1.4"/>
<polyline points="1200.0,166.0 1214.3,175.5 1228.5,172.3 1236.5,181.8 1253.9,188.2 1272.9,185.0 1277.7,194.5 1287.2,204.0 1296.7,227.0" fill="none" stroke="#4a4a4a" stroke-width="1.15" stroke-linejoin="round" opacity="0.7" stroke-dasharray="22 1.4"/>
<polyline points="1212.7,176.6 1202.2,172.6 1195.6,173.9 1190.3,181.9 1187.6,193.7 1171.8,195.1 1166.5,196.4 1169.0,207.0 1175.7,211.0 1173.1,221.5 1179.8,232.1 1182.3,258.5 1191.8,261.7 1188.7,269.6 1179.2,282.3 1177.6,290.3 1196.6,298.2 1199.8,309.3 1201.4,318.8 1212.5,326.7 1211.7,334.6 1215.6,344.2 1220.4,360.0 1228.3,372.7 1229.9,380.6 1239.4,383.8 1247.3,401.2 1252.1,407.6 1261.6,409.2 1275.3,418.8 1297.4,419.9 1306.3,423.2 1290.8,428.8 1288.6,439.9 1297.4,457.6 1288.6,468.7 1270.8,484.3 1266.4,497.6 1257.5,499.8 1254.2,513.1 1259.7,522.0 1253.1,535.3 1266.4,548.7 1279.7,559.8 1283.0,566.4 1286.3,577.5 1297.4,582.0 1295.2,595.3 1310.8,602.0 1332.9,613.0 1364.0,624.1 1381.8,639.7 1397.0,662.0" fill="none" stroke="#4a4a4a" stroke-width="1.15" stroke-linejoin="round" opacity="0.7" stroke-dasharray="22 1.4"/>
<polyline points="1003.2,340.2 1023.8,337.8 1042.8,332.3 1050.7,326.7 1057.1,329.9 1061.0,338.6 1071.3,333.1 1085.6,322.8 1095.1,325.1 1107.8,322.8 1123.7,326.7 1139.5,331.5 1152.2,331.5 1166.5,325.9 1174.4,329.9 1176.0,341.0 1180.8,347.3 1190.3,341.0 1204.5,333.9 1211.7,334.6" fill="none" stroke="#4a4a4a" stroke-width="1.15" stroke-linejoin="round" opacity="0.7" stroke-dasharray="22 1.4"/>
<polyline points="1061.0,338.6 1039.6,356.8 1023.8,371.1 1002.0,376.0" fill="none" stroke="#4a4a4a" stroke-width="1.15" stroke-linejoin="round" opacity="0.7" stroke-dasharray="22 1.4"/>
<polyline points="1353.8,57.4 1366.5,69.3 1371.2,77.2 1390.3,81.2 1406.1,82.0 1418.8,64.5 1434.7,58.2" fill="none" stroke="#4a4a4a" stroke-width="1.15" stroke-linejoin="round" opacity="0.7" stroke-dasharray="22 1.4"/>
<polyline points="1471.1,58.2 1485.9,76.1 1500.7,97.3 1519.8,116.3 1538.8,120.5 1555.7,126.9 1564.2,137.5 1551.5,136.4 1534.6,137.5 1519.8,141.7 1509.2,150.1 1502.9,171.3 1499.7,192.4 1492.3,203.0 1477.5,211.4 1470.1,230.5 1470.1,255.8 1471.1,277.0 1477.5,293.9 1492.3,308.7 1519.8,315.0 1549.4,321.4 1559.9,332.0 1581.1,344.7 1610.7,355.2 1640.3,365.8 1661.4,370.0 1693.1,365.8 1724.8,359.4 1756.6,353.1 1786.2,349.9 1775.6,355.2 1792.5,355.2 1790.4,329.8 1786.2,298.1 1784.0,245.3 1786.2,224.1 1779.8,211.4 1767.1,203.0 1746.0,198.8 1738.6,200.9 1739.7,190.3 1746.0,184.0 1767.1,186.1 1762.9,179.7 1759.7,160.7 1746.0,158.6 1729.1,160.7 1731.2,171.3 1720.6,158.6 1714.3,145.9 1714.3,129.0 1720.6,107.9 1724.8,93.1 1720.6,82.5 1705.8,59.2" fill="none" stroke="#4a4a4a" stroke-width="1.15" stroke-linejoin="round" opacity="0.7" stroke-dasharray="22 1.4"/>
<polyline points="1724.8,93.1 1731.2,105.7 1746.0,107.9 1760.8,105.7 1777.7,114.2 1788.3,116.3 1807.3,110.0 1813.6,112.1 1817.9,103.6 1836.9,101.5 1839.0,95.2 1830.5,82.5 1809.4,69.8 1796.7,58.2" fill="none" stroke="#4a4a4a" stroke-width="1.15" stroke-linejoin="round" opacity="0.7" stroke-dasharray="22 1.4"/>
<polyline points="1788.3,324.6 1809.4,323.5 1830.5,317.2 1845.3,302.3 1847.0,296.0" fill="none" stroke="#4a4a4a" stroke-width="1.15" stroke-linejoin="round" opacity="0.7" stroke-dasharray="22 1.4"/>
<circle cx="1226.2" cy="91.2" r="2.2" fill="none" stroke="#4a4a4a" stroke-width="1.1" opacity="0.8"/>
<circle cx="1258.7" cy="117.6" r="2.2" fill="none" stroke="#4a4a4a" stroke-width="1.1" opacity="0.8"/>
<polyline points="1731.2,215.7 1735.4,234.7" fill="none" stroke="#4a4a4a" stroke-width="1.1" stroke-linejoin="round" opacity="0.8"/>
<rect x="1223.5" y="254.5" width="99" height="112.5" fill="none" stroke="#ff0000" stroke-width="5.5"/>
<text x="1813.8" y="150.8" font-family="'Liberation Serif', 'Times New Roman', serif" font-size="18.5" text-anchor="middle" fill="#000">N</text><polygon points="1813.8,159.7 1830.1,206.2 1813.8,197.7 1797.5,206.2" fill="#000"/>
<rect x="1039.5" y="634" width="31.4" height="7.5" fill="#000"/>
<rect x="1070.9" y="634" width="31.4" height="7.5" fill="none" stroke="#000" stroke-width="1"/>
<rect x="1102.3" y="634" width="31.4" height="7.5" fill="#000"/>
<rect x="1133.7" y="634" width="31.4" height="7.5" fill="none" stroke="#000" stroke-width="1"/>
<rect x="1165.1" y="634" width="126.20000000000005" height="7.5" fill="#000"/>
<text x="1039.5" y="630" font-family="'Liberation Sans', Arial, sans-serif" font-size="9.7" text-anchor="middle" fill="#222">2</text>
<text x="1102.3" y="630" font-family="'Liberation Sans', Arial, sans-serif" font-size="9.7" text-anchor="middle" fill="#222">1</text>
<text x="1165.1" y="630" font-family="'Liberation Sans', Arial, sans-serif" font-size="9.7" text-anchor="middle" fill="#222">0</text>
<text x="1288.3" y="630" font-family="'Liberation Sans', Arial, sans-serif" font-size="9.7" fill="#222">2 Decimal Degrees</text>
<rect x="1001.2" y="57.2" width="846.0" height="605.5" fill="none" stroke="#6f6f7a" stroke-width="1.3"/>
<line x1="1052.1" y1="54.2" x2="1052.1" y2="57.2" stroke="#8888bb" stroke-width="1"/>
<line x1="1052.1" y1="662.7" x2="1052.1" y2="665.7" stroke="#8888bb" stroke-width="1"/>
<line x1="1102.32" y1="54.2" x2="1102.32" y2="57.2" stroke="#8888bb" stroke-width="1"/>
<line x1="1102.32" y1="662.7" x2="1102.32" y2="665.7" stroke="#8888bb" stroke-width="1"/>
<line x1="1152.54" y1="54.2" x2="1152.54" y2="57.2" stroke="#8888bb" stroke-width="1"/>
<line x1="1152.54" y1="662.7" x2="1152.54" y2="665.7" stroke="#8888bb" stroke-width="1"/>
<line x1="1202.76" y1="54.2" x2="1202.76" y2="57.2" stroke="#8888bb" stroke-width="1"/>
<line x1="1202.76" y1="662.7" x2="1202.76" y2="665.7" stroke="#8888bb" stroke-width="1"/>
<line x1="1252.98" y1="54.2" x2="1252.98" y2="57.2" stroke="#8888bb" stroke-width="1"/>
<line x1="1252.98" y1="662.7" x2="1252.98" y2="665.7" stroke="#8888bb" stroke-width="1"/>
<line x1="1303.1999999999998" y1="54.2" x2="1303.1999999999998" y2="57.2" stroke="#8888bb" stroke-width="1"/>
<line x1="1303.1999999999998" y1="662.7" x2="1303.1999999999998" y2="665.7" stroke="#8888bb" stroke-width="1"/>
<line x1="1353.4199999999998" y1="54.2" x2="1353.4199999999998" y2="57.2" stroke="#8888bb" stroke-width="1"/>
<line x1="1353.4199999999998" y1="662.7" x2="1353.4199999999998" y2="665.7" stroke="#8888bb" stroke-width="1"/>
<line x1="1403.6399999999999" y1="54.2" x2="1403.6399999999999" y2="57.2" stroke="#8888bb" stroke-width="1"/>
<line x1="1403.6399999999999" y1="662.7" x2="1403.6399999999999" y2="665.7" stroke="#8888bb" stroke-width="1"/>
<line x1="1453.86" y1="54.2" x2="1453.86" y2="57.2" stroke="#8888bb" stroke-width="1"/>
<line x1="1453.86" y1="662.7" x2="1453.86" y2="665.7" stroke="#8888bb" stroke-width="1"/>
<line x1="1504.08" y1="54.2" x2="1504.08" y2="57.2" stroke="#8888bb" stroke-width="1"/>
<line x1="1504.08" y1="662.7" x2="1504.08" y2="665.7" stroke="#8888bb" stroke-width="1"/>
<line x1="1554.3" y1="54.2" x2="1554.3" y2="57.2" stroke="#8888bb" stroke-width="1"/>
<line x1="1554.3" y1="662.7" x2="1554.3" y2="665.7" stroke="#8888bb" stroke-width="1"/>
<line x1="1604.52" y1="54.2" x2="1604.52" y2="57.2" stroke="#8888bb" stroke-width="1"/>
<line x1="1604.52" y1="662.7" x2="1604.52" y2="665.7" stroke="#8888bb" stroke-width="1"/>
<line x1="1654.7399999999998" y1="54.2" x2="1654.7399999999998" y2="57.2" stroke="#8888bb" stroke-width="1"/>
<line x1="1654.7399999999998" y1="662.7" x2="1654.7399999999998" y2="665.7" stroke="#8888bb" stroke-width="1"/>
<line x1="1704.96" y1="54.2" x2="1704.96" y2="57.2" stroke="#8888bb" stroke-width="1"/>
<line x1="1704.96" y1="662.7" x2="1704.96" y2="665.7" stroke="#8888bb" stroke-width="1"/>
<line x1="1755.1799999999998" y1="54.2" x2="1755.1799999999998" y2="57.2" stroke="#8888bb" stroke-width="1"/>
<line x1="1755.1799999999998" y1="662.7" x2="1755.1799999999998" y2="665.7" stroke="#8888bb" stroke-width="1"/>
<line x1="1805.3999999999999" y1="54.2" x2="1805.3999999999999" y2="57.2" stroke="#8888bb" stroke-width="1"/>
<line x1="1805.3999999999999" y1="662.7" x2="1805.3999999999999" y2="665.7" stroke="#8888bb" stroke-width="1"/>
<line x1="998.2" y1="81.6" x2="1001.2" y2="81.6" stroke="#8888bb" stroke-width="1"/>
<line x1="1847.2" y1="81.6" x2="1850.2" y2="81.6" stroke="#8888bb" stroke-width="1"/>
<line x1="998.2" y1="131.89999999999998" x2="1001.2" y2="131.89999999999998" stroke="#8888bb" stroke-width="1"/>
<line x1="1847.2" y1="131.89999999999998" x2="1850.2" y2="131.89999999999998" stroke="#8888bb" stroke-width="1"/>
<line x1="998.2" y1="182.2" x2="1001.2" y2="182.2" stroke="#8888bb" stroke-width="1"/>
<line x1="1847.2" y1="182.2" x2="1850.2" y2="182.2" stroke="#8888bb" stroke-width="1"/>
<line x1="998.2" y1="232.49999999999997" x2="1001.2" y2="232.49999999999997" stroke="#8888bb" stroke-width="1"/>
<line x1="1847.2" y1="232.49999999999997" x2="1850.2" y2="232.49999999999997" stroke="#8888bb" stroke-width="1"/>
<line x1="998.2" y1="282.79999999999995" x2="1001.2" y2="282.79999999999995" stroke="#8888bb" stroke-width="1"/>
<line x1="1847.2" y1="282.79999999999995" x2="1850.2" y2="282.79999999999995" stroke="#8888bb" stroke-width="1"/>
<line x1="998.2" y1="333.1" x2="1001.2" y2="333.1" stroke="#8888bb" stroke-width="1"/>
<line x1="1847.2" y1="333.1" x2="1850.2" y2="333.1" stroke="#8888bb" stroke-width="1"/>
<line x1="998.2" y1="383.4" x2="1001.2" y2="383.4" stroke="#8888bb" stroke-width="1"/>
<line x1="1847.2" y1="383.4" x2="1850.2" y2="383.4" stroke="#8888bb" stroke-width="1"/>
<line x1="998.2" y1="433.69999999999993" x2="1001.2" y2="433.69999999999993" stroke="#8888bb" stroke-width="1"/>
<line x1="1847.2" y1="433.69999999999993" x2="1850.2" y2="433.69999999999993" stroke="#8888bb" stroke-width="1"/>
<line x1="998.2" y1="484.0" x2="1001.2" y2="484.0" stroke="#8888bb" stroke-width="1"/>
<line x1="1847.2" y1="484.0" x2="1850.2" y2="484.0" stroke="#8888bb" stroke-width="1"/>
<line x1="998.2" y1="534.3" x2="1001.2" y2="534.3" stroke="#8888bb" stroke-width="1"/>
<line x1="1847.2" y1="534.3" x2="1850.2" y2="534.3" stroke="#8888bb" stroke-width="1"/>
<line x1="998.2" y1="584.6" x2="1001.2" y2="584.6" stroke="#8888bb" stroke-width="1"/>
<line x1="1847.2" y1="584.6" x2="1850.2" y2="584.6" stroke="#8888bb" stroke-width="1"/>
<line x1="998.2" y1="634.9" x2="1001.2" y2="634.9" stroke="#8888bb" stroke-width="1"/>
<line x1="1847.2" y1="634.9" x2="1850.2" y2="634.9" stroke="#8888bb" stroke-width="1"/>
<text x="1100.3" y="46.6" font-family="'Liberation Sans', Arial, sans-serif" font-weight="bold" font-size="29.5" text-anchor="middle" fill="#000">43°0'0&quot;E</text>
<text x="1100.3" y="695.8" font-family="'Liberation Sans', Arial, sans-serif" font-weight="bold" font-size="29.5" text-anchor="middle" fill="#000">43°0'0&quot;E</text>
<text x="1352.3" y="46.6" font-family="'Liberation Sans', Arial, sans-serif" font-weight="bold" font-size="29.5" text-anchor="middle" fill="#000">47°0'0&quot;E</text>
<text x="1352.3" y="695.8" font-family="'Liberation Sans', Arial, sans-serif" font-weight="bold" font-size="29.5" text-anchor="middle" fill="#000">47°0'0&quot;E</text>
<text x="1604.2" y="46.6" font-family="'Liberation Sans', Arial, sans-serif" font-weight="bold" font-size="29.5" text-anchor="middle" fill="#000">51°0'0&quot;E</text>
<text x="1604.2" y="695.8" font-family="'Liberation Sans', Arial, sans-serif" font-weight="bold" font-size="29.5" text-anchor="middle" fill="#000">51°0'0&quot;E</text>
<text transform="translate(990.8,283.2) rotate(-90)" font-family="'Liberation Sans', Arial, sans-serif" font-weight="bold" font-size="29.5" text-anchor="middle" fill="#000">38°0'0&quot;N</text>
<g><text transform="translate(1878.9,283.2) rotate(-90)" font-family="'Liberation Sans', Arial, sans-serif" font-weight="bold" font-size="29.5" text-anchor="middle" fill="#000">38°0'0&quot;N</text></g>
<text transform="translate(990.8,538) rotate(-90)" font-family="'Liberation Sans', Arial, sans-serif" font-weight="bold" font-size="29.5" text-anchor="middle" fill="#000">34°0'0&quot;N</text>
<g><text transform="translate(1878.9,538) rotate(-90)" font-family="'Liberation Sans', Arial, sans-serif" font-weight="bold" font-size="29.5" text-anchor="middle" fill="#000">34°0'0&quot;N</text></g>
<defs><linearGradient id="legB" x1="0" y1="0" x2="0" y2="1"><stop offset="0" stop-color="#9acd20"/><stop offset="1" stop-color="#eaf6d2"/></linearGradient></defs>
<rect x="1041.5" y="737.6" width="34.7" height="36.8" fill="url(#legB)"/>
<text transform="translate(1086,748.8) scale(1.1,1)" font-family="'Liberation Sans', Arial, sans-serif" font-size="28" fill="#000">0.9</text>
<text transform="translate(1097,778.1) scale(1.14,1)" font-family="'Liberation Sans', Arial, sans-serif" font-size="28" fill="#000">0</text>
<text x="1017" y="148.2" font-family="'Liberation Serif', 'Times New Roman', serif" font-weight="bold" font-size="63.5" fill="#000">b)</text>
<rect x="651.8" y="1489.2" width="28.4" height="143.3" fill="#fe0000" stroke="#000" stroke-width="1.6"/>
<rect x="700.8" y="1575.6" width="28.4" height="56.9" fill="#fe0000" stroke="#000" stroke-width="1.6"/>
<rect x="749.8" y="1550.2" width="28.4" height="82.3" fill="#fe0000" stroke="#000" stroke-width="1.6"/>
<rect x="798.8" y="1512.8" width="28.4" height="119.7" fill="#fe0000" stroke="#000" stroke-width="1.6"/>
<rect x="847.8" y="1577.5" width="28.4" height="55.0" fill="#fe0000" stroke="#000" stroke-width="1.6"/>
<rect x="896.8" y="1552.5" width="28.4" height="80.0" fill="#fe0000" stroke="#000" stroke-width="1.6"/>
<rect x="945.8" y="1511.0" width="28.4" height="121.5" fill="#fe0000" stroke="#000" stroke-width="1.6"/>
<rect x="994.8" y="1498.4" width="28.4" height="134.1" fill="#fe0000" stroke="#000" stroke-width="1.6"/>
<rect x="1043.8" y="1373.9" width="28.4" height="258.6" fill="#fe0000" stroke="#000" stroke-width="1.6"/>
<rect x="1092.8" y="1294.8" width="28.4" height="337.7" fill="#fe0000" stroke="#000" stroke-width="1.6"/>
<rect x="1141.8" y="1367.1" width="28.4" height="265.4" fill="#fe0000" stroke="#000" stroke-width="1.6"/>
<rect x="1190.8" y="1205.3" width="28.4" height="427.2" fill="#fe0000" stroke="#000" stroke-width="1.6"/>
<rect x="1239.8" y="1259.0" width="28.4" height="373.5" fill="#fe0000" stroke="#000" stroke-width="1.6"/>
<rect x="1288.8" y="1146.8" width="28.4" height="485.7" fill="#fe0000" stroke="#000" stroke-width="1.6"/>
<rect x="1337.8" y="1306.4" width="28.4" height="326.1" fill="#fe0000" stroke="#000" stroke-width="1.6"/>
<rect x="1386.8" y="1381.6" width="28.4" height="250.9" fill="#fe0000" stroke="#000" stroke-width="1.6"/>
<rect x="1435.8" y="1346.7" width="28.4" height="285.8" fill="#fe0000" stroke="#000" stroke-width="1.6"/>
<rect x="1484.8" y="951.3" width="28.4" height="681.2" fill="#fe0000" stroke="#000" stroke-width="1.6"/>
<path d="M666.0,1401.0 L715.0,1387.3 L764.0,1324.4 L813.0,1267.5 L862.0,1235.9 L911.0,1452.0 L960.0,1387.0 L1009.0,1288.6 L1058.0,1553.0 L1107.0,1303.0 L1156.0,987.0 L1205.0,1335.3 L1254.0,1358.0 L1303.0,1150.2 L1352.0,1264.5 L1401.0,1004.0 L1450.0,1071.0 L1499.0,1085.5" fill="none" stroke="#575757" stroke-width="6.6" stroke-linejoin="miter" stroke-miterlimit="2"/>
<rect x="659.0" y="1394.0" width="14" height="14" fill="#555"/>
<rect x="708.0" y="1380.3" width="14" height="14" fill="#555"/>
<rect x="757.0" y="1317.4" width="14" height="14" fill="#555"/>
<rect x="806.0" y="1260.5" width="14" height="14" fill="#555"/>
<rect x="855.0" y="1228.9" width="14" height="14" fill="#555"/>
<rect x="904.0" y="1445.0" width="14" height="14" fill="#555"/>
<rect x="953.0" y="1380.0" width="14" height="14" fill="#555"/>
<rect x="1002.0" y="1281.6" width="14" height="14" fill="#555"/>
<rect x="1051.0" y="1546.0" width="14" height="14" fill="#555"/>
<rect x="1100.0" y="1296.0" width="14" height="14" fill="#555"/>
<rect x="1149.0" y="980.0" width="14" height="14" fill="#555"/>
<rect x="1198.0" y="1328.3" width="14" height="14" fill="#555"/>
<rect x="1247.0" y="1351.0" width="14" height="14" fill="#555"/>
<rect x="1296.0" y="1143.2" width="14" height="14" fill="#555"/>
<rect x="1345.0" y="1257.5" width="14" height="14" fill="#555"/>
<rect x="1394.0" y="997.0" width="14" height="14" fill="#555"/>
<rect x="1443.0" y="1064.0" width="14" height="14" fill="#555"/>
<rect x="1492.0" y="1078.5" width="14" height="14" fill="#555"/>
<rect x="1149.0" y="961" width="14" height="13.5" fill="#555"/>
<line x1="617.0" y1="880.0" x2="1548.0" y2="880.0" stroke="#000" stroke-width="2.4"/>
<line x1="617.0" y1="1632.5" x2="1548.0" y2="1632.5" stroke="#000" stroke-width="2.4"/>
<line x1="617.0" y1="1632.5" x2="617.0" y2="1639.5" stroke="#000" stroke-width="2"/>
<line x1="666.0" y1="1632.5" x2="666.0" y2="1646.5" stroke="#000" stroke-width="2"/>
<line x1="666.0" y1="880.0" x2="666.0" y2="893.0" stroke="#000" stroke-width="2"/>
<text x="666.0" y="1681.5" font-family="'Liberation Sans', Arial, sans-serif" font-size="33" text-anchor="middle" fill="#000">2000</text>
<line x1="715.0" y1="1632.5" x2="715.0" y2="1639.5" stroke="#000" stroke-width="2"/>
<line x1="715.0" y1="880.0" x2="715.0" y2="886.0" stroke="#000" stroke-width="2"/>
<line x1="764.0" y1="1632.5" x2="764.0" y2="1646.5" stroke="#000" stroke-width="2"/>
<line x1="764.0" y1="880.0" x2="764.0" y2="893.0" stroke="#000" stroke-width="2"/>
<text x="764.0" y="1681.5" font-family="'Liberation Sans', Arial, sans-serif" font-size="33" text-anchor="middle" fill="#000">2002</text>
<line x1="813.0" y1="1632.5" x2="813.0" y2="1639.5" stroke="#000" stroke-width="2"/>
<line x1="813.0" y1="880.0" x2="813.0" y2="886.0" stroke="#000" stroke-width="2"/>
<line x1="862.0" y1="1632.5" x2="862.0" y2="1646.5" stroke="#000" stroke-width="2"/>
<line x1="862.0" y1="880.0" x2="862.0" y2="893.0" stroke="#000" stroke-width="2"/>
<text x="862.0" y="1681.5" font-family="'Liberation Sans', Arial, sans-serif" font-size="33" text-anchor="middle" fill="#000">2004</text>
<line x1="911.0" y1="1632.5" x2="911.0" y2="1639.5" stroke="#000" stroke-width="2"/>
<line x1="911.0" y1="880.0" x2="911.0" y2="886.0" stroke="#000" stroke-width="2"/>
<line x1="960.0" y1="1632.5" x2="960.0" y2="1646.5" stroke="#000" stroke-width="2"/>
<line x1="960.0" y1="880.0" x2="960.0" y2="893.0" stroke="#000" stroke-width="2"/>
<text x="960.0" y="1681.5" font-family="'Liberation Sans', Arial, sans-serif" font-size="33" text-anchor="middle" fill="#000">2006</text>
<line x1="1009.0" y1="1632.5" x2="1009.0" y2="1639.5" stroke="#000" stroke-width="2"/>
<line x1="1009.0" y1="880.0" x2="1009.0" y2="886.0" stroke="#000" stroke-width="2"/>
<line x1="1058.0" y1="1632.5" x2="1058.0" y2="1646.5" stroke="#000" stroke-width="2"/>
<line x1="1058.0" y1="880.0" x2="1058.0" y2="893.0" stroke="#000" stroke-width="2"/>
<text x="1058.0" y="1681.5" font-family="'Liberation Sans', Arial, sans-serif" font-size="33" text-anchor="middle" fill="#000">2008</text>
<line x1="1107.0" y1="1632.5" x2="1107.0" y2="1639.5" stroke="#000" stroke-width="2"/>
<line x1="1107.0" y1="880.0" x2="1107.0" y2="886.0" stroke="#000" stroke-width="2"/>
<line x1="1156.0" y1="1632.5" x2="1156.0" y2="1646.5" stroke="#000" stroke-width="2"/>
<line x1="1156.0" y1="880.0" x2="1156.0" y2="893.0" stroke="#000" stroke-width="2"/>
<text x="1156.0" y="1681.5" font-family="'Liberation Sans', Arial, sans-serif" font-size="33" text-anchor="middle" fill="#000">2010</text>
<line x1="1205.0" y1="1632.5" x2="1205.0" y2="1639.5" stroke="#000" stroke-width="2"/>
<line x1="1205.0" y1="880.0" x2="1205.0" y2="886.0" stroke="#000" stroke-width="2"/>
<line x1="1254.0" y1="1632.5" x2="1254.0" y2="1646.5" stroke="#000" stroke-width="2"/>
<line x1="1254.0" y1="880.0" x2="1254.0" y2="893.0" stroke="#000" stroke-width="2"/>
<text x="1254.0" y="1681.5" font-family="'Liberation Sans', Arial, sans-serif" font-size="33" text-anchor="middle" fill="#000">2012</text>
<line x1="1303.0" y1="1632.5" x2="1303.0" y2="1639.5" stroke="#000" stroke-width="2"/>
<line x1="1303.0" y1="880.0" x2="1303.0" y2="886.0" stroke="#000" stroke-width="2"/>
<line x1="1352.0" y1="1632.5" x2="1352.0" y2="1646.5" stroke="#000" stroke-width="2"/>
<line x1="1352.0" y1="880.0" x2="1352.0" y2="893.0" stroke="#000" stroke-width="2"/>
<text x="1352.0" y="1681.5" font-family="'Liberation Sans', Arial, sans-serif" font-size="33" text-anchor="middle" fill="#000">2014</text>
<line x1="1401.0" y1="1632.5" x2="1401.0" y2="1639.5" stroke="#000" stroke-width="2"/>
<line x1="1401.0" y1="880.0" x2="1401.0" y2="886.0" stroke="#000" stroke-width="2"/>
<line x1="1450.0" y1="1632.5" x2="1450.0" y2="1646.5" stroke="#000" stroke-width="2"/>
<line x1="1450.0" y1="880.0" x2="1450.0" y2="893.0" stroke="#000" stroke-width="2"/>
<text x="1450.0" y="1681.5" font-family="'Liberation Sans', Arial, sans-serif" font-size="33" text-anchor="middle" fill="#000">2016</text>
<line x1="1499.0" y1="1632.5" x2="1499.0" y2="1639.5" stroke="#000" stroke-width="2"/>
<line x1="1499.0" y1="880.0" x2="1499.0" y2="886.0" stroke="#000" stroke-width="2"/>
<line x1="1548.0" y1="1632.5" x2="1548.0" y2="1646.5" stroke="#000" stroke-width="2"/>
<text x="1548.0" y="1681.5" font-family="'Liberation Sans', Arial, sans-serif" font-size="33" text-anchor="middle" fill="#000">2018</text>
<line x1="617.0" y1="880.0" x2="617.0" y2="1633.5" stroke="#ff0000" stroke-width="2"/>
<line x1="601" y1="1632.5" x2="617.0" y2="1632.5" stroke="#ff0000" stroke-width="2.6"/>
<text transform="translate(591,1645.8) scale(1,1.075)" font-family="'Liberation Sans', Arial, sans-serif" font-weight="bold" font-size="43.5" text-anchor="end" fill="#ff0000">0.20</text>
<line x1="608.5" y1="1585.5" x2="617.0" y2="1585.5" stroke="#ff0000" stroke-width="2.6"/>
<line x1="601" y1="1538.5" x2="617.0" y2="1538.5" stroke="#ff0000" stroke-width="2.6"/>
<text transform="translate(591,1551.8) scale(1,1.075)" font-family="'Liberation Sans', Arial, sans-serif" font-weight="bold" font-size="43.5" text-anchor="end" fill="#ff0000">0.25</text>
<line x1="608.5" y1="1491.5" x2="617.0" y2="1491.5" stroke="#ff0000" stroke-width="2.6"/>
<line x1="601" y1="1444.5" x2="617.0" y2="1444.5" stroke="#ff0000" stroke-width="2.6"/>
<text transform="translate(591,1457.8) scale(1,1.075)" font-family="'Liberation Sans', Arial, sans-serif" font-weight="bold" font-size="43.5" text-anchor="end" fill="#ff0000">0.30</text>
<line x1="608.5" y1="1397.5" x2="617.0" y2="1397.5" stroke="#ff0000" stroke-width="2.6"/>
<line x1="601" y1="1350.5" x2="617.0" y2="1350.5" stroke="#ff0000" stroke-width="2.6"/>
<text transform="translate(591,1363.8) scale(1,1.075)" font-family="'Liberation Sans', Arial, sans-serif" font-weight="bold" font-size="43.5" text-anchor="end" fill="#ff0000">0.35</text>
<line x1="608.5" y1="1303.5" x2="617.0" y2="1303.5" stroke="#ff0000" stroke-width="2.6"/>
<line x1="601" y1="1256.5" x2="617.0" y2="1256.5" stroke="#ff0000" stroke-width="2.6"/>
<text transform="translate(591,1269.8) scale(1,1.075)" font-family="'Liberation Sans', Arial, sans-serif" font-weight="bold" font-size="43.5" text-anchor="end" fill="#ff0000">0.40</text>
<line x1="608.5" y1="1209.5" x2="617.0" y2="1209.5" stroke="#ff0000" stroke-width="2.6"/>
<line x1="601" y1="1162.5" x2="617.0" y2="1162.5" stroke="#ff0000" stroke-width="2.6"/>
<text transform="translate(591,1175.8) scale(1,1.075)" font-family="'Liberation Sans', Arial, sans-serif" font-weight="bold" font-size="43.5" text-anchor="end" fill="#ff0000">0.45</text>
<line x1="608.5" y1="1115.5" x2="617.0" y2="1115.5" stroke="#ff0000" stroke-width="2.6"/>
<line x1="601" y1="1068.5" x2="617.0" y2="1068.5" stroke="#ff0000" stroke-width="2.6"/>
<text transform="translate(591,1081.8) scale(1,1.075)" font-family="'Liberation Sans', Arial, sans-serif" font-weight="bold" font-size="43.5" text-anchor="end" fill="#ff0000">0.50</text>
<line x1="608.5" y1="1021.5" x2="617.0" y2="1021.5" stroke="#ff0000" stroke-width="2.6"/>
<line x1="601" y1="974.5" x2="617.0" y2="974.5" stroke="#ff0000" stroke-width="2.6"/>
<text transform="translate(591,987.8) scale(1,1.075)" font-family="'Liberation Sans', Arial, sans-serif" font-weight="bold" font-size="43.5" text-anchor="end" fill="#ff0000">0.55</text>
<line x1="608.5" y1="927.5" x2="617.0" y2="927.5" stroke="#ff0000" stroke-width="2.6"/>
<line x1="601" y1="880.5" x2="617.0" y2="880.5" stroke="#ff0000" stroke-width="2.6"/>
<text transform="translate(591,893.8) scale(1,1.075)" font-family="'Liberation Sans', Arial, sans-serif" font-weight="bold" font-size="43.5" text-anchor="end" fill="#ff0000">0.60</text>
<line x1="1548.0" y1="879.0" x2="1548.0" y2="1633.5" stroke="#666" stroke-width="2"/>
<line x1="1548.0" y1="880.0" x2="1562.5" y2="880.0" stroke="#666" stroke-width="2.4"/>
<text transform="translate(1571.5,894.0) scale(1,1.04)" font-family="'Liberation Serif', 'Times New Roman', serif" font-weight="bold" font-size="43.5" fill="#575757">0.20</text>
<line x1="1548.0" y1="937.9" x2="1556" y2="937.9" stroke="#666" stroke-width="2.4"/>
<line x1="1548.0" y1="995.7" x2="1562.5" y2="995.7" stroke="#666" stroke-width="2.4"/>
<text transform="translate(1571.5,1009.7) scale(1,1.04)" font-family="'Liberation Serif', 'Times New Roman', serif" font-weight="bold" font-size="43.5" fill="#575757">0.19</text>
<line x1="1548.0" y1="1053.6" x2="1556" y2="1053.6" stroke="#666" stroke-width="2.4"/>
<line x1="1548.0" y1="1111.4" x2="1562.5" y2="1111.4" stroke="#666" stroke-width="2.4"/>
<text transform="translate(1571.5,1125.4) scale(1,1.04)" font-family="'Liberation Serif', 'Times New Roman', serif" font-weight="bold" font-size="43.5" fill="#575757">0.18</text>
<line x1="1548.0" y1="1169.2" x2="1556" y2="1169.2" stroke="#666" stroke-width="2.4"/>
<line x1="1548.0" y1="1227.1" x2="1562.5" y2="1227.1" stroke="#666" stroke-width="2.4"/>
<text transform="translate(1571.5,1241.1) scale(1,1.04)" font-family="'Liberation Serif', 'Times New Roman', serif" font-weight="bold" font-size="43.5" fill="#575757">0.17</text>
<line x1="1548.0" y1="1285.0" x2="1556" y2="1285.0" stroke="#666" stroke-width="2.4"/>
<line x1="1548.0" y1="1342.8" x2="1562.5" y2="1342.8" stroke="#666" stroke-width="2.4"/>
<text transform="translate(1571.5,1356.8) scale(1,1.04)" font-family="'Liberation Serif', 'Times New Roman', serif" font-weight="bold" font-size="43.5" fill="#575757">0.16</text>
<line x1="1548.0" y1="1400.6" x2="1556" y2="1400.6" stroke="#666" stroke-width="2.4"/>
<line x1="1548.0" y1="1458.5" x2="1562.5" y2="1458.5" stroke="#666" stroke-width="2.4"/>
<text transform="translate(1571.5,1472.5) scale(1,1.04)" font-family="'Liberation Serif', 'Times New Roman', serif" font-weight="bold" font-size="43.5" fill="#575757">0.15</text>
<line x1="1548.0" y1="1516.3" x2="1556" y2="1516.3" stroke="#666" stroke-width="2.4"/>
<line x1="1548.0" y1="1574.2" x2="1562.5" y2="1574.2" stroke="#666" stroke-width="2.4"/>
<text transform="translate(1571.5,1588.2) scale(1,1.04)" font-family="'Liberation Serif', 'Times New Roman', serif" font-weight="bold" font-size="43.5" fill="#575757">0.14</text>
<line x1="1548.0" y1="1632.1" x2="1556" y2="1632.1" stroke="#666" stroke-width="2.4"/>
<text x="683" y="1010" font-family="'Liberation Serif', 'Times New Roman', serif" font-weight="bold" font-size="64" fill="#000">R = 0.54</text>
<text x="985" y="957.5" font-family="'Liberation Serif', 'Times New Roman', serif" font-weight="bold" font-size="72" fill="#000">C )</text>
<text transform="translate(481,1257) rotate(-90) scale(0.92,1)" font-family="'Liberation Serif', 'Times New Roman', serif" font-size="54" text-anchor="middle" fill="#000">AOD</text>
<text transform="translate(1698.5,1257.5) rotate(-90) scale(0.97,1)" font-family="'Liberation Serif', 'Times New Roman', serif" font-size="51.5" text-anchor="middle" fill="#000">NDVI</text>
</svg>
</body></html>
